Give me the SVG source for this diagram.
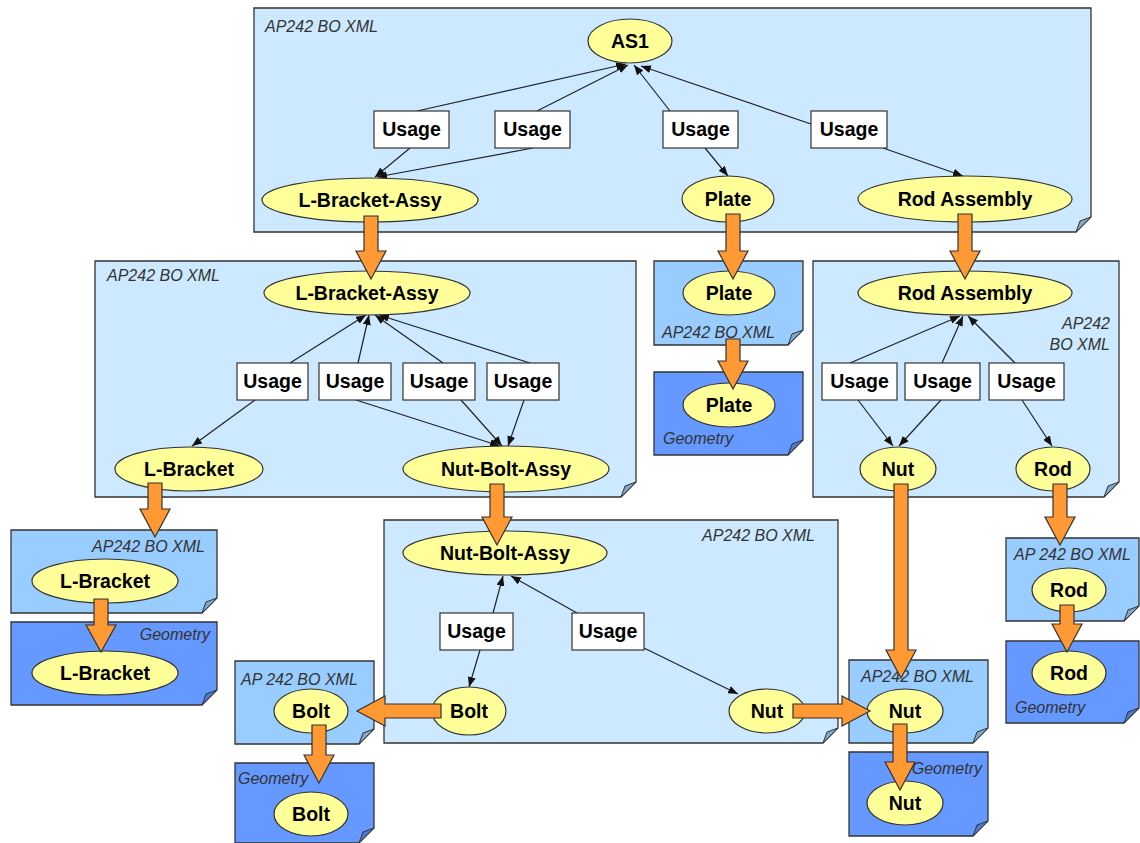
<svg xmlns="http://www.w3.org/2000/svg" width="1140" height="843" viewBox="0 0 1140 843">
<defs>
<style>
.panel{fill:#cce9ff;stroke:#333;stroke-width:1.3}
.bo{fill:#99ccff;stroke:#333;stroke-width:1.3}
.geo{fill:#6699ff;stroke:#333;stroke-width:1.3}
.fold{fill:#7fa8cc;stroke:#333;stroke-width:1}
.foldg{fill:#4d79cc;stroke:#333;stroke-width:1}
.ell{fill:#ffff99;stroke:#333;stroke-width:1.2}
.box{fill:#fff;stroke:#333;stroke-width:1.2}
.t{font-family:"Liberation Sans",Arial,sans-serif;font-weight:bold;font-size:19.5px;fill:#000;text-anchor:middle}
.lbl{font-family:"Liberation Sans",Arial,sans-serif;font-style:italic;font-size:16px;fill:#333}
.r{text-anchor:end}
.c{stroke:#222;stroke-width:1.2;fill:none;marker-end:url(#ah)}
.oa{fill:#ff9933;stroke:#333;stroke-width:1.2}
</style>
<marker id="ah" markerWidth="10" markerHeight="8" refX="10" refY="4" orient="auto" markerUnits="userSpaceOnUse"><path d="M0,0 L10,4 L0,8 Z" fill="#111"/></marker>
</defs>

<!-- panels -->
<g id="panel-top">
<path class="panel" d="M254,8 H1091 V217 L1076,232 H254 Z"/>
<path class="fold" d="M1091,217 L1076,232 L1080,221 Z"/>
<text class="lbl" x="265" y="32">AP242 BO XML</text>
</g>
<g id="panel-lbracket-assy">
<path class="panel" d="M95,261 H636 V482 L621,497 H95 Z"/>
<path class="fold" d="M636,482 L621,497 L625,486 Z"/>
<text class="lbl" x="107" y="281">AP242 BO XML</text>
</g>
<g id="box-plate-bo">
<path class="bo" d="M654,261 H803 V330 L788,345 H654 Z"/>
<path class="fold" d="M803,330 L788,345 L792,334 Z"/>
<text class="lbl" x="662" y="338">AP242 BO XML</text>
</g>
<g id="box-plate-geo">
<path class="geo" d="M654,372 H803 V440 L788,455 H654 Z"/>
<path class="foldg" d="M803,440 L788,455 L792,444 Z"/>
<text class="lbl" x="663" y="444">Geometry</text>
</g>
<g id="panel-rod-assy">
<path class="panel" d="M813,261 H1119 V482 L1104,497 H813 Z"/>
<path class="fold" d="M1119,482 L1104,497 L1108,486 Z"/>
<text class="lbl r" x="1110" y="329">AP242</text>
<text class="lbl r" x="1110" y="350">BO XML</text>
</g>
<g id="box-lbracket-bo">
<path class="bo" d="M11,530 H217 V598 L202,613 H11 Z"/>
<path class="fold" d="M217,598 L202,613 L206,602 Z"/>
<text class="lbl r" x="205" y="552">AP242 BO XML</text>
</g>
<g id="box-lbracket-geo">
<path class="geo" d="M11,622 H217 V690 L202,705 H11 Z"/>
<path class="foldg" d="M217,690 L202,705 L206,694 Z"/>
<text class="lbl r" x="210" y="640">Geometry</text>
</g>
<g id="panel-nutbolt-assy">
<path class="panel" d="M384,520 H838 V728 L823,743 H384 Z"/>
<path class="fold" d="M838,728 L823,743 L827,732 Z"/>
<text class="lbl r" x="815" y="541">AP242 BO XML</text>
</g>
<g id="box-bolt-bo">
<path class="bo" d="M235,661 H374 V729 L359,744 H235 Z"/>
<path class="fold" d="M374,729 L359,744 L363,733 Z"/>
<text class="lbl" x="241" y="685">AP 242 BO XML</text>
</g>
<g id="box-bolt-geo">
<path class="geo" d="M235,763 H374 V828 L359,843 H235 Z"/>
<path class="foldg" d="M374,828 L359,843 L363,832 Z"/>
<text class="lbl" x="238" y="784">Geometry</text>
</g>
<g id="box-nut-bo">
<path class="bo" d="M849,660 H988 V728 L973,743 H849 Z"/>
<path class="fold" d="M988,728 L973,743 L977,732 Z"/>
<text class="lbl" x="861" y="682">AP242 BO XML</text>
</g>
<g id="box-nut-geo">
<path class="geo" d="M849,752 H988 V821 L973,836 H849 Z"/>
<path class="foldg" d="M988,821 L973,836 L977,825 Z"/>
<text class="lbl r" x="982" y="774">Geometry</text>
</g>
<g id="box-rod-bo">
<path class="bo" d="M1006,538 H1139 V606 L1124,621 H1006 Z"/>
<path class="fold" d="M1139,606 L1124,621 L1128,610 Z"/>
<text class="lbl" x="1014" y="560">AP 242 BO XML</text>
</g>
<g id="box-rod-geo">
<path class="geo" d="M1006,641 H1139 V708 L1124,723 H1006 Z"/>
<path class="foldg" d="M1139,708 L1124,723 L1128,712 Z"/>
<text class="lbl" x="1015" y="713">Geometry</text>
</g>

<!-- connectors -->
<g id="connectors">
<line class="c" x1="417" y1="111" x2="626" y2="64"/>
<line class="c" x1="537" y1="111" x2="628" y2="65"/>
<line class="c" x1="670" y1="111" x2="634" y2="65"/>
<line class="c" x1="811" y1="124" x2="641" y2="66"/>
<line class="c" x1="410" y1="148" x2="375" y2="177"/>
<line class="c" x1="533" y1="148" x2="377" y2="177"/>
<line class="c" x1="705" y1="148" x2="728" y2="176"/>
<line class="c" x1="883" y1="148" x2="963" y2="176"/>
<line class="c" x1="290" y1="363" x2="366" y2="315"/>
<line class="c" x1="358" y1="363" x2="369" y2="315"/>
<line class="c" x1="443" y1="363" x2="375" y2="315"/>
<line class="c" x1="530" y1="363" x2="379" y2="315"/>
<line class="c" x1="255" y1="400" x2="192" y2="446"/>
<line class="c" x1="356" y1="400" x2="500" y2="446"/>
<line class="c" x1="461" y1="400" x2="502" y2="446"/>
<line class="c" x1="524" y1="400" x2="508" y2="446"/>
<line class="c" x1="850" y1="363" x2="960" y2="316"/>
<line class="c" x1="942" y1="363" x2="963" y2="316"/>
<line class="c" x1="1015" y1="363" x2="968" y2="316"/>
<line class="c" x1="858" y1="400" x2="893" y2="446"/>
<line class="c" x1="941" y1="400" x2="899" y2="446"/>
<line class="c" x1="1022" y1="400" x2="1052" y2="446"/>
<line class="c" x1="493" y1="613" x2="503" y2="576"/>
<line class="c" x1="480" y1="650" x2="469" y2="687"/>
<line class="c" x1="577" y1="613" x2="511" y2="576"/>
<line class="c" x1="644" y1="648" x2="738" y2="694"/>
</g>

<!-- nodes -->
<g id="n-as1"><ellipse class="ell" cx="630" cy="41" rx="42" ry="22"/><text class="t" x="630" y="48">AS1</text></g>
<g id="u1"><rect class="box" x="374" y="111" width="75" height="37"/><text class="t" x="411.5" y="136">Usage</text></g>
<g id="u2"><rect class="box" x="495" y="111" width="75" height="37"/><text class="t" x="532.5" y="136">Usage</text></g>
<g id="u3"><rect class="box" x="663" y="111" width="75" height="37"/><text class="t" x="700.5" y="136">Usage</text></g>
<g id="u4"><rect class="box" x="811" y="111" width="76" height="37"/><text class="t" x="849" y="136">Usage</text></g>
<g id="n-lba1"><ellipse class="ell" cx="370" cy="200" rx="108" ry="22"/><text class="t" x="370" y="207">L-Bracket-Assy</text></g>
<g id="n-plate1"><ellipse class="ell" cx="728" cy="199" rx="46" ry="23"/><text class="t" x="728" y="206">Plate</text></g>
<g id="n-rodassy1"><ellipse class="ell" cx="965" cy="199" rx="107" ry="23"/><text class="t" x="965" y="206">Rod Assembly</text></g>

<g id="n-lba2"><ellipse class="ell" cx="367" cy="293" rx="103" ry="22"/><text class="t" x="367" y="300">L-Bracket-Assy</text></g>
<g id="u5"><rect class="box" x="237" y="363" width="71" height="37"/><text class="t" x="272.5" y="388">Usage</text></g>
<g id="u6"><rect class="box" x="319" y="363" width="72" height="37"/><text class="t" x="355" y="388">Usage</text></g>
<g id="u7"><rect class="box" x="403" y="363" width="72" height="37"/><text class="t" x="439" y="388">Usage</text></g>
<g id="u8"><rect class="box" x="487" y="363" width="72" height="37"/><text class="t" x="523" y="388">Usage</text></g>
<g id="n-lb2"><ellipse class="ell" cx="189" cy="469" rx="74" ry="22"/><text class="t" x="189" y="476">L-Bracket</text></g>
<g id="n-nba2"><ellipse class="ell" cx="506" cy="469" rx="103" ry="23"/><text class="t" x="506" y="476">Nut-Bolt-Assy</text></g>

<g id="n-plate2"><ellipse class="ell" cx="729" cy="293" rx="46" ry="22"/><text class="t" x="729" y="300">Plate</text></g>
<g id="n-plate3"><ellipse class="ell" cx="729" cy="405" rx="46" ry="22"/><text class="t" x="729" y="412">Plate</text></g>

<g id="n-rodassy2"><ellipse class="ell" cx="965" cy="293" rx="107" ry="22"/><text class="t" x="965" y="300">Rod Assembly</text></g>
<g id="u9"><rect class="box" x="822" y="363" width="75" height="37"/><text class="t" x="859.5" y="388">Usage</text></g>
<g id="u10"><rect class="box" x="905" y="363" width="75" height="37"/><text class="t" x="942.5" y="388">Usage</text></g>
<g id="u11"><rect class="box" x="989" y="363" width="75" height="37"/><text class="t" x="1026.5" y="388">Usage</text></g>
<g id="n-nut2"><ellipse class="ell" cx="898" cy="469" rx="38" ry="22"/><text class="t" x="898" y="476">Nut</text></g>
<g id="n-rod2"><ellipse class="ell" cx="1053" cy="469" rx="37" ry="22"/><text class="t" x="1053" y="476">Rod</text></g>

<g id="n-lb3"><ellipse class="ell" cx="105" cy="581" rx="73" ry="22"/><text class="t" x="105" y="588">L-Bracket</text></g>
<g id="n-lb4"><ellipse class="ell" cx="105" cy="673" rx="73" ry="22"/><text class="t" x="105" y="680">L-Bracket</text></g>

<g id="n-nba3"><ellipse class="ell" cx="505" cy="553" rx="102" ry="22"/><text class="t" x="505" y="560">Nut-Bolt-Assy</text></g>
<g id="u12"><rect class="box" x="440" y="613" width="73" height="37"/><text class="t" x="476.5" y="638">Usage</text></g>
<g id="u13"><rect class="box" x="572" y="613" width="72" height="37"/><text class="t" x="608" y="638">Usage</text></g>
<g id="n-bolt3"><ellipse class="ell" cx="469" cy="711" rx="37" ry="24"/><text class="t" x="469" y="718">Bolt</text></g>
<g id="n-nut3"><ellipse class="ell" cx="767" cy="711" rx="38" ry="22"/><text class="t" x="767" y="718">Nut</text></g>

<g id="n-bolt4"><ellipse class="ell" cx="311" cy="711" rx="37" ry="22"/><text class="t" x="311" y="718">Bolt</text></g>
<g id="n-bolt5"><ellipse class="ell" cx="311" cy="814" rx="37" ry="22"/><text class="t" x="311" y="821">Bolt</text></g>
<g id="n-nut4"><ellipse class="ell" cx="905" cy="711" rx="38" ry="22"/><text class="t" x="905" y="718">Nut</text></g>
<g id="n-nut5"><ellipse class="ell" cx="905" cy="803" rx="38" ry="22"/><text class="t" x="905" y="810">Nut</text></g>
<g id="n-rod4"><ellipse class="ell" cx="1069" cy="590" rx="37" ry="22"/><text class="t" x="1069" y="597">Rod</text></g>
<g id="n-rod5"><ellipse class="ell" cx="1069" cy="673" rx="37" ry="22"/><text class="t" x="1069" y="680">Rod</text></g>

<!-- orange block arrows -->
<g id="block-arrows">
<polygon class="oa" points="364,216 378,216 378,251 386,251 371,279 356,251 364,251"/>
<polygon class="oa" points="726,214 740,214 740,251 748,251 733,279 718,251 726,251"/>
<polygon class="oa" points="958,214 972,214 972,251 980,251 965,279 950,251 958,251"/>
<polygon class="oa" points="726,339 740,339 740,361 748,361 733,389 718,361 726,361"/>
<polygon class="oa" points="148,483 162,483 162,509 170,509 155,537 140,509 148,509"/>
<polygon class="oa" points="94,599 108,599 108,625 116,625 101,652 86,625 94,625"/>
<polygon class="oa" points="490,484 504,484 504,517 512,517 497,545 482,517 490,517"/>
<polygon class="oa" points="894,484 908,484 908,650 916,650 901,678 886,650 894,650"/>
<polygon class="oa" points="1053,484 1067,484 1067,517 1075,517 1060,545 1045,517 1053,517"/>
<polygon class="oa" points="1060,605 1074,605 1074,624 1082,624 1067,652 1052,624 1060,624"/>
<polygon class="oa" points="893,724 907,724 907,762 915,762 900,790 885,762 893,762"/>
<polygon class="oa" points="312,725 326,725 326,755 334,755 319,783 304,755 312,755"/>
<polygon class="oa" points="441,704 441,718 385,718 385,726 357,711 385,696 385,704"/>
<polygon class="oa" points="793,704 793,718 842,718 842,726 870,711 842,696 842,704"/>
</g>
</svg>
